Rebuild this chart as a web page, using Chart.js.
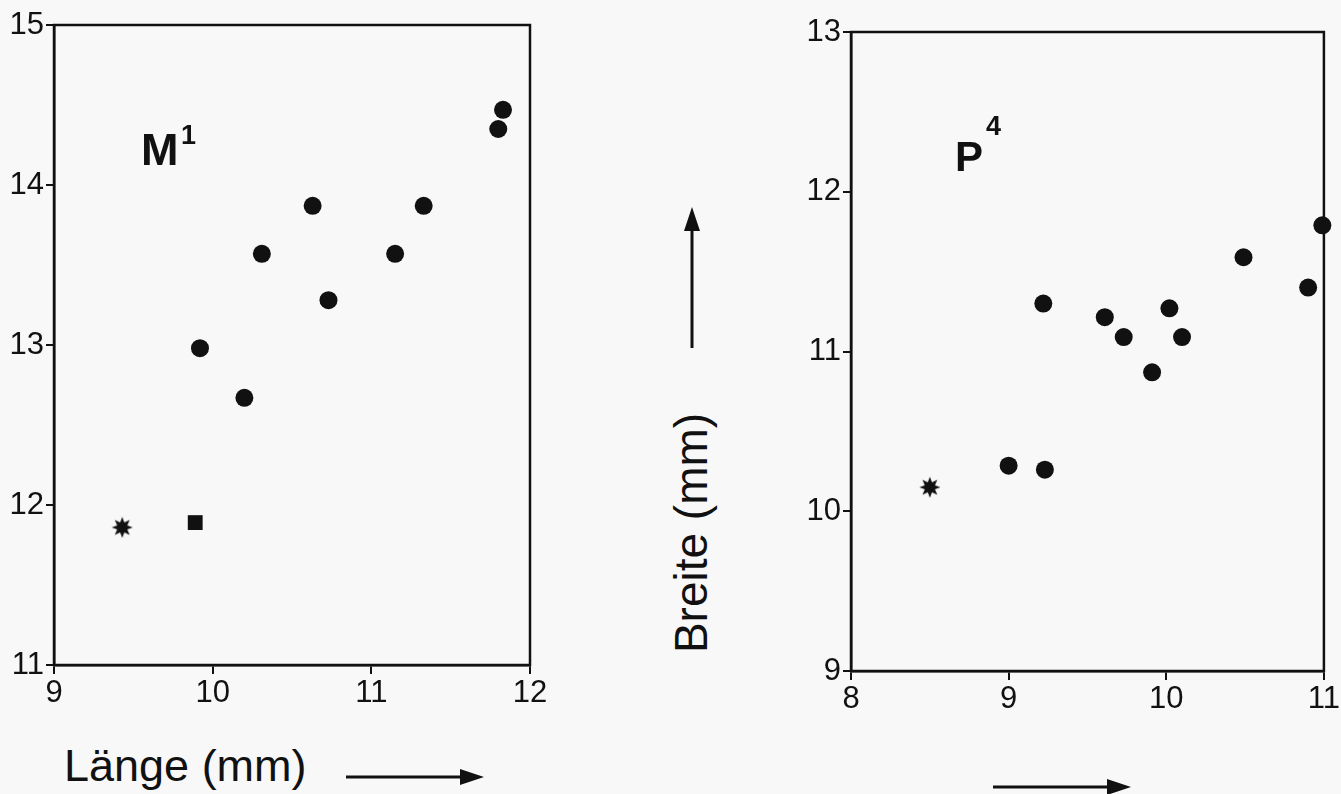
<!DOCTYPE html>
<html>
<head>
<meta charset="utf-8">
<script src="https://cdn.jsdelivr.net/npm/chart.js@4/dist/chart.umd.min.js"></script>
<style>
  html, body { margin:0; padding:0; background:#f8f8f8; }
  body { width:1341px; height:794px; position:relative; overflow:hidden; font-family:"Liberation Sans", Arial, sans-serif; color:#111; }
  canvas { position:absolute; top:0; }
  .lbl { position:absolute; line-height:1; white-space:nowrap; }
  svg { position:absolute; left:0; top:0; pointer-events:none; }
</style>
</head>
<body>
<canvas id="m1" width="560" height="720" style="left:0"></canvas>
<canvas id="p4" width="561" height="720" style="left:780px"></canvas>

<div class="lbl" style="left:141px;top:127px;font-size:45px;font-weight:bold">M</div>
<div class="lbl" style="left:181px;top:122px;font-size:27px;font-weight:bold">1</div>
<div class="lbl" style="left:955px;top:136px;font-size:42px;font-weight:bold">P</div>
<div class="lbl" style="left:986px;top:113px;font-size:27px;font-weight:bold">4</div>

<div class="lbl" style="left:64px;top:743px;font-size:45px">Länge (mm)</div>
<div class="lbl" style="left:691px;top:533px;font-size:46px;transform:translate(-50%,-50%) rotate(-90deg)">Breite (mm)</div>

<svg width="1341" height="794">
  <g stroke="#111" stroke-width="3" fill="#111">
    <line x1="346" y1="777" x2="462" y2="777"/>
    <polygon points="484,777 460,769 460,785" stroke="none"/>
    <line x1="993" y1="787" x2="1109" y2="787"/>
    <polygon points="1131,787 1107,779 1107,795" stroke="none"/>
    <line x1="692" y1="348" x2="692" y2="228"/>
    <polygon points="692,207 684,231 700,231" stroke="none"/>
  </g>
</svg>

<script>
// M1: Laenge / Breite (mm)
const m1Laenge = [9.92, 10.20, 10.31, 10.63, 10.73, 11.15, 11.33, 11.80, 11.83];
const m1Breite = [12.98, 12.67, 13.57, 13.87, 13.28, 13.57, 13.87, 14.35, 14.47];
const m1StarLaenge = [9.43];
const m1StarBreite = [11.86];
const m1SquareLaenge = [9.89];
const m1SquareBreite = [11.89];
const m1XTicks = [9, 10, 11, 12];
const m1YTicks = [11, 12, 13, 14, 15];

// P4
const p4Laenge = [9.00, 9.23, 9.22, 9.61, 9.73, 9.91, 10.02, 10.10, 10.49, 10.90, 10.99];
const p4Breite = [10.285, 10.26, 11.30, 11.215, 11.09, 10.87, 11.27, 11.09, 11.59, 11.40, 11.79];
const p4StarLaenge = [8.50];
const p4StarBreite = [10.15];
const p4XTicks = [8, 9, 10, 11];
const p4YTicks = [9, 10, 11, 12, 13];

const ink = '#111';
const tickFont = {family:'"Liberation Sans", Arial, sans-serif', size:31};

// filled eight-point star used as point style
function makeStar(){
  const c = document.createElement('canvas');
  c.width = 22; c.height = 22;
  const g = c.getContext('2d');
  g.fillStyle = ink;
  g.beginPath();
  for(let i=0;i<16;i++){
    const r = i%2 ? 5.5 : 10.5;
    const a = i*Math.PI/8 - Math.PI/2;
    const px = 11 + r*Math.cos(a), py = 11 + r*Math.sin(a);
    i ? g.lineTo(px,py) : g.moveTo(px,py);
  }
  g.closePath(); g.fill();
  return c;
}
const starImg = makeStar();

const toPts = (xs, ys) => xs.map((x,i)=>({x, y:ys[i]}));

const frame = {
  id:'frame',
  afterDraw(chart){
    const a = chart.chartArea, ctx = chart.ctx;
    ctx.save();
    ctx.strokeStyle = ink; ctx.lineWidth = 2.5;
    ctx.strokeRect(a.left, a.top, a.right-a.left, a.bottom-a.top);
    ctx.restore();
  }
};

function axis(min, max, ticks, fit, tl, pad){
  return {
    type:'linear', min, max,
    afterBuildTicks: s => { s.ticks = ticks.map(v=>({value:v})); },
    afterFit: fit,
    grid:{display:true, drawOnChartArea:false, drawTicks:true, tickLength:tl, color:ink, lineWidth:2},
    border:{display:true, color:ink, width:2.5},
    ticks:{color:ink, padding:pad, font:tickFont}
  };
}

function makeChart(id, dots, stars, squares, xr, yr, xt, yt, yw, xh, pad){
  const datasets = [
    {data:dots, pointStyle:'circle', pointRadius:9, backgroundColor:ink, borderWidth:0},
    {data:stars, pointStyle:starImg, pointRadius:11}
  ];
  if(squares) datasets.push({data:squares, pointStyle:'rect', pointRadius:10.5, backgroundColor:ink, borderWidth:0});
  return new Chart(document.getElementById(id), {
    type:'scatter',
    data:{datasets},
    options:{
      responsive:false, animation:false, clip:false,
      layout:{padding:pad},
      plugins:{legend:{display:false}, tooltip:{enabled:false}},
      scales:{
        x: axis(xr[0], xr[1], xt, s=>{ s.height = xh; }, 9, 1),
        y: axis(yr[0], yr[1], yt, s=>{ s.width = yw; }, 8, 2)
      }
    },
    plugins:[frame]
  });
}

makeChart('m1', toPts(m1Laenge, m1Breite), toPts(m1StarLaenge, m1StarBreite), toPts(m1SquareLaenge, m1SquareBreite),
  [9,12], [11,15], m1XTicks, m1YTicks, 54, 55, {left:0, right:30, top:25, bottom:0});
makeChart('p4', toPts(p4Laenge, p4Breite), toPts(p4StarLaenge, p4StarBreite), null,
  [8,11], [9,13], p4XTicks, p4YTicks, 71, 49, {left:0, right:13, top:32, bottom:0});
</script>
</body>
</html>
